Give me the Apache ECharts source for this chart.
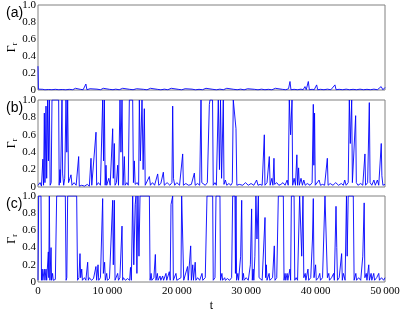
<!DOCTYPE html>
<html><head><meta charset="utf-8">
<script src="https://cdn.jsdelivr.net/npm/echarts@6/dist/echarts.min.js"></script>
<style>html,body{margin:0;padding:0;background:#fff}#c{width:407px;height:312px}</style>
</head><body><div id="c"></div>
<script>
var panelLabels = ['(a)', '(b)', '(c)'];
var xTicks = [0, 10000, 20000, 30000, 40000, 50000];
var yTicks = [0, 0.2, 0.4, 0.6, 0.8, 1.0];

var panelA = [[0,0.28],[60,0.01],[300,0.003],[700,0.008],[1000,0.002],[1500,0.006],[2000,0.003],[2500,0.008],[3000,0.003],[3500,0.006],[4000,0.002],[4500,0.008],[5000,0.003],[5400,0.02],[5600,0.003],[6100,0.008],[6500,0.003],[6900,0.07],[7050,0.003],[7500,0.015],[7700,0.003],[8500,0.01],[9000,0.003],[9400,0.02],[9600,0.002],[10300,0.008],[10800,0.003],[11200,0.01],[11700,0.003],[12200,0.02],[12400,0.002],[13200,0.008],[13700,0.003],[14200,0.015],[14400,0.003],[15200,0.008],[15700,0.002],[16200,0.02],[16400,0.003],[17200,0.008],[17700,0.002],[18200,0.01],[18700,0.003],[19200,0.02],[19400,0.003],[20200,0.008],[20700,0.002],[21200,0.015],[21400,0.003],[22200,0.01],[22700,0.002],[23200,0.008],[23700,0.003],[24200,0.02],[24400,0.003],[25200,0.008],[25700,0.002],[26200,0.01],[26700,0.003],[27200,0.02],[27400,0.002],[28200,0.008],[28700,0.003],[29200,0.01],[29700,0.002],[30200,0.015],[30400,0.003],[31200,0.008],[31700,0.002],[32200,0.01],[32700,0.003],[33200,0.008],[33700,0.002],[34200,0.02],[34400,0.003],[35200,0.008],[35700,0.003],[36100,0.015],[36310,0.1],[36450,0.003],[36900,0.008],[37400,0.003],[37900,0.01],[38200,0.003],[38470,0.04],[38650,0.003],[38950,0.1],[39100,0.003],[39500,0.008],[39800,0.003],[40150,0.06],[40300,0.003],[40700,0.008],[41200,0.003],[41700,0.01],[42200,0.003],[42790,0.06],[42950,0.003],[43400,0.008],[43900,0.003],[44400,0.01],[44900,0.003],[45400,0.008],[45900,0.003],[46400,0.01],[46900,0.003],[47400,0.008],[47900,0.003],[48400,0.01],[48900,0.003],[49440,0.04],[49700,0.003],[50000,0.03]];

var panelB = [[0,0.02],[300,0.05],[500,0.01],[700,0.32],[800,0.02],[912,0.85],[1000,0.05],[1153,0.93],[1250,0.1],[1393,1],[1500,0.3],[1633,1],[1750,0.02],[1900,0.05],[2017,1],[2978,1],[3050,0.02],[3170,0.2],[3250,0.05],[3458,1],[3550,0.15],[3700,0.02],[3850,0.1],[4035,1],[4150,0.4],[4275,1],[4400,0.05],[4600,0.1],[4755,0.14],[4900,0.02],[5200,0.05],[5500,0.02],[5860,0.35],[5950,0.01],[6300,0.02],[6700,0.01],[7100,0.03],[7400,0.01],[7637,0.33],[7750,0.02],[8000,0.03],[8358,0.63],[8450,0.02],[8700,0.05],[9000,0.02],[9318,1],[9450,0.3],[9558,1],[9680,0.02],[9799,0.25],[9900,0.02],[10200,0.1],[10400,0.02],[10760,0.67],[10850,0.1],[11000,0.5],[11100,0.02],[11300,0.05],[11480,0.25],[11600,0.02],[11817,1],[11950,0.4],[12105,1],[12250,0.02],[12441,0.35],[12550,0.02],[12800,0.05],[13000,0.02],[13162,1],[13642,1],[13750,0.05],[13882,0.3],[14000,0.03],[14300,0.05],[14500,0.02],[14603,1],[14750,0.3],[14987,1],[15150,0.2],[15323,0.9],[15450,0.02],[15700,0.03],[16044,0.12],[16200,0.02],[16500,0.05],[16800,0.02],[17245,0.15],[17400,0.02],[17700,0.04],[18061,0.17],[18200,0.02],[18600,0.05],[19000,0.02],[19300,0.05],[19406,0.93],[19520,0.1],[19700,0.02],[20000,0.05],[20400,0.02],[20847,0.38],[20950,0.02],[21300,0.04],[21700,0.02],[22100,0.03],[22528,0.16],[22650,0.02],[23000,0.04],[23300,0.02],[23489,1],[23600,0.05],[23800,0.03],[24100,0.02],[24400,0.05],[24690,0.95],[24780,1],[25150,1],[25250,0.02],[25500,0.05],[25700,0.02],[25980,1],[26150,0.2],[26300,1],[26450,0.1],[26700,1],[26800,0.03],[27000,0.08],[27200,0.02],[27500,0.04],[27800,0.02],[28000,0.05],[28140,1],[28350,1],[28530,0.67],[28650,0.02],[29000,0.03],[29500,0.02],[29900,0.05],[30300,0.02],[30700,0.04],[31100,0.02],[31500,0.08],[31700,0.02],[32000,0.03],[32300,0.02],[32610,0.6],[32700,0.02],[33000,0.05],[33330,0.35],[33450,0.02],[33700,0.1],[33850,0.02],[34000,0.33],[34100,0.03],[34400,0.05],[34700,0.02],[35000,0.03],[35300,0.05],[35600,0.02],[35900,0.08],[36050,0.02],[36210,1],[36400,0.6],[36600,1],[36700,0.02],[36900,0.1],[37100,0.02],[37300,0.37],[37400,0.02],[37550,0.22],[37650,0.02],[37900,0.1],[38100,0.02],[38300,0.08],[38500,0.02],[38800,0.04],[39200,0.02],[39500,0.05],[39670,0.95],[39750,0.25],[39850,0.85],[39950,0.02],[40200,0.04],[40500,0.08],[40700,0.02],[41000,0.03],[41300,0.02],[41690,0.33],[41800,0.02],[42100,0.04],[42500,0.02],[42900,0.05],[43300,0.02],[43700,0.04],[44000,0.02],[44200,0.08],[44400,0.02],[44700,0.05],[44860,1],[45000,0.5],[45200,1],[45300,0.05],[45500,0.03],[45770,0.82],[45870,0.05],[46100,0.02],[46500,0.04],[46800,0.02],[47110,0.38],[47200,0.02],[47500,0.05],[47740,0.97],[47850,0.05],[48100,0.02],[48400,0.08],[48600,0.02],[48900,0.08],[49100,0.02],[49460,0.5],[49550,0.13],[49700,0.02],[50000,0.03]];

var panelC = [[0,0.02],[96,1],[432,1],[500,0.02],[600,0.15],[700,0.02],[900,0.15],[1000,0.02],[1153,0.15],[1250,0.02],[1490,0.35],[1560,0.05],[1633,1],[1720,0.02],[1880,0.4],[1950,0.02],[2100,0.1],[2200,0.02],[2500,0.03],[2690,1],[3938,1],[4050,0.02],[4150,0.05],[4275,1],[5572,1],[5700,0.02],[5900,0.05],[6050,0.33],[6150,0.05],[6300,0.15],[6400,0.02],[6700,0.05],[6900,0.02],[7157,0.23],[7250,0.02],[7400,0.05],[7700,0.02],[8000,0.04],[8350,0.18],[8450,0.02],[8650,0.2],[8750,0.02],[9000,0.05],[9318,0.97],[9420,0.1],[9600,0.23],[9700,0.02],[9900,0.1],[10000,0.02],[10300,0.04],[10500,0.02],[10760,0.95],[10850,0.2],[11000,0.95],[11100,0.02],[11480,0.1],[11600,0.02],[11800,0.05],[12105,0.65],[12200,0.02],[12300,0.05],[12600,0.02],[12900,0.04],[13200,0.02],[13330,0.17],[13450,0.02],[13642,1],[13800,0.2],[14000,0.9],[14123,1],[14250,0.1],[14400,1],[14550,0.3],[14700,1],[16050,1],[16150,0.02],[16300,0.1],[16400,0.02],[16700,0.05],[16910,0.32],[17000,0.02],[17200,0.1],[17300,0.02],[17580,0.07],[17700,0.02],[17960,0.07],[18100,0.02],[18440,0.1],[18550,0.02],[18920,0.12],[19050,0.02],[19166,0.9],[19406,1],[19500,0.02],[19880,0.1],[20000,0.02],[20600,0.05],[20700,1],[20900,1],[21000,0.02],[21550,0.18],[21650,0.02],[22000,0.42],[22100,0.02],[22300,0.2],[22400,0.02],[22650,0.23],[22750,0.02],[23000,0.05],[23300,0.02],[23630,0.1],[23750,0.02],[24100,0.05],[24350,1],[25170,1],[25250,0.02],[25500,0.05],[25650,1],[26220,1],[26300,0.02],[26500,0.1],[26600,0.02],[26900,0.05],[27000,0.02],[27300,0.04],[27600,0.02],[27900,0.05],[28050,1],[28380,1],[28450,0.1],[28530,1],[28620,0.02],[28800,0.1],[28900,0.02],[29200,0.3],[29350,0.95],[29450,0.02],[29600,0.1],[29700,0.02],[30000,0.05],[30300,0.02],[30600,0.2],[30780,0.85],[30880,0.02],[31000,0.15],[31100,0.02],[31250,0.3],[31400,1],[31550,0.5],[31750,1],[31850,0.05],[32100,0.05],[32300,0.02],[32710,0.75],[32800,0.05],[32900,0.2],[33000,0.02],[33300,0.1],[33400,0.02],[33800,0.05],[34050,0.42],[34150,0.02],[34400,0.05],[34630,1],[35350,1],[35450,0.02],[35600,0.1],[35700,0.02],[35900,0.1],[36000,0.02],[36300,0.15],[36400,0.02],[36510,1],[36900,1],[37000,0.02],[37200,0.05],[37400,0.02],[37700,1],[37900,1],[38000,0.3],[38180,1],[38300,0.05],[38500,0.1],[38600,0.02],[38900,0.15],[39000,0.02],[39300,0.05],[39550,0.5],[39670,0.97],[39770,0.05],[40000,0.2],[40100,0.02],[40400,0.05],[40600,0.1],[40700,0.02],[41000,0.05],[41350,1],[41590,1],[41700,0.05],[41900,0.1],[42000,0.02],[42300,0.05],[42600,0.1],[42700,0.02],[42940,0.88],[43050,0.4],[43150,0.02],[43400,0.05],[43750,0.33],[43850,0.02],[44000,0.1],[44250,0.02],[44450,1],[44550,0.3],[44700,1],[45430,1],[45550,0.02],[45800,0.1],[45900,0.02],[46200,0.05],[46500,0.02],[46800,0.3],[47000,0.92],[47100,0.05],[47300,0.1],[47400,0.02],[47660,0.2],[47750,0.02],[48000,0.1],[48100,0.02],[48380,0.1],[48500,0.02],[48800,0.05],[49100,0.1],[49200,0.02],[49500,0.05],[49800,0.02],[50000,0.05]];

var panels = [panelA, panelB, panelC];
var grids = [
  {left: 38, width: 347, top: 5, height: 85},
  {left: 38, width: 347, top: 100, height: 87},
  {left: 38, width: 347, top: 196, height: 86}
];
var serif = '"Liberation Serif", "DejaVu Serif", serif';
function fmtX(v) { if (v === 0) return '0'; var s = String(v); return s.slice(0, s.length - 3) + '\u2009' + s.slice(-3); }
function fmtY(v) { return v === 0 ? '0' : v.toFixed(1); }

var option = {
  animation: false,
  backgroundColor: '#fff',
  title: panelLabels.map(function (t, i) {
    return {text: t, left: 1, top: grids[i].top - 4, textStyle: {fontFamily: 'Liberation Sans, Arial, sans-serif', fontSize: 14, fontWeight: 'normal', color: '#000'}};
  }),
  grid: grids.map(function (g) { return Object.assign({show: true, borderColor: '#808080', borderWidth: 1, backgroundColor: 'transparent', containLabel: false, outerBoundsMode: 'none'}, g); }),
  xAxis: grids.map(function (g, i) {
    return {
      type: 'value', gridIndex: i, min: 0, max: 50000, interval: 10000,
      axisLine: {show: false}, axisTick: {show: false}, splitLine: {show: false},
      axisLabel: {show: i === 2, formatter: fmtX, fontFamily: serif, fontSize: 11, color: '#000', margin: 4},
      name: i === 2 ? 't' : '', nameLocation: 'middle', nameGap: 18, nameMoveOverlap: false,
      nameTextStyle: {fontFamily: serif, fontSize: 12, color: '#000'}
    };
  }),
  yAxis: grids.map(function (g, i) {
    return {
      type: 'value', gridIndex: i, min: 0, max: 1, interval: 0.2,
      axisLine: {show: false}, axisTick: {show: false}, splitLine: {show: false},
      axisLabel: {formatter: fmtY, fontFamily: serif, fontSize: 11, color: '#000', margin: 2},
      name: '{g|Γ}{s|r}', nameLocation: 'middle', nameGap: 19, nameRotate: 90, nameMoveOverlap: false,
      nameTextStyle: {rich: {g: {fontFamily: serif, fontSize: 12, color: '#000'}, s: {fontFamily: serif, fontSize: 8, color: '#000', verticalAlign: 'bottom', padding: [6, 0, 0, 0]}}}
    };
  }),
  series: panels.map(function (d, i) {
    return {type: 'line', xAxisIndex: i, yAxisIndex: i, data: d, showSymbol: false, symbol: 'none',
      lineStyle: {color: '#0000ff', width: 0.9}, silent: true};
  })
};
echarts.init(document.getElementById('c')).setOption(option);
</script></body></html>
